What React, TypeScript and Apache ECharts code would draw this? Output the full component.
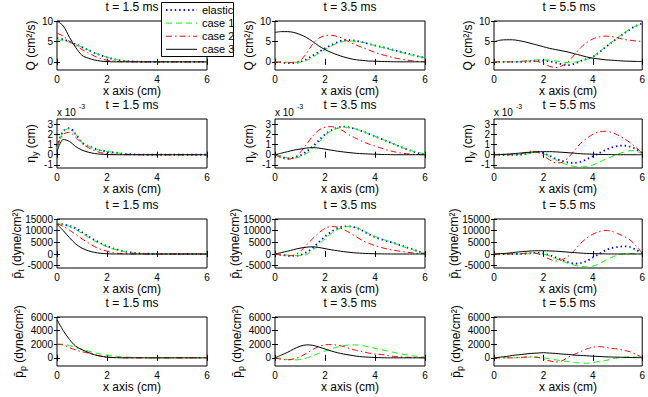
import React, { useEffect, useRef } from "react";
import * as echarts from "echarts";

const FONT = "'Liberation Sans', Arial, Helvetica, sans-serif";

const X = [0, 0.25, 0.5, 0.75, 1, 1.25, 1.5, 1.75, 2, 2.25, 2.5, 2.75, 3, 3.25, 3.5, 3.75, 4, 4.25, 4.5, 4.75, 5, 5.25, 5.5, 5.75, 6];
const TIMES = ["t = 1.5 ms", "t = 3.5 ms", "t = 5.5 ms"];
const NAMES = ["elastic", "case 1", "case 2", "case 3"];

const Q_TICKS = [0, 5, 10];
const ETA_TICKS = [-1, 0, 1, 2, 3];
const PT_TICKS = [-5000, 0, 5000, 10000, 15000];
const PP_TICKS = [0, 2000, 4000, 6000];

// Q (cm^2/s)
const Q15_E = [5.8, 5.5, 4.9, 4.3, 3.6, 2.9, 2.2, 1.6, 1.1, 0.7, 0.4, 0.2, 0.1, 0.05, 0, 0, 0, 0, 0, 0, 0, 0, 0, 0, 0];
const Q15_1 = [5.4, 5.2, 4.8, 4.3, 3.6, 2.9, 2.2, 1.6, 1.1, 0.7, 0.4, 0.2, 0.1, 0.05, 0, 0, 0, 0, 0, 0, 0, 0, 0, 0, 0];
const Q15_2 = [7.0, 6.3, 5.0, 4.0, 3.0, 2.2, 1.4, 0.8, 0.4, 0.2, 0.05, 0, 0, 0, 0, 0, 0, 0, 0, 0, 0, 0, 0, 0, 0];
const Q15_3 = [10, 8.8, 6.0, 3.5, 1.6, 0.9, 0.45, 0.18, 0.05, 0, 0, 0, 0, 0, 0, 0, 0, 0, 0, 0, 0, 0, 0, 0, 0];
const Q35_E = [0, -0.1, -0.3, -0.3, 0.0, 0.6, 1.5, 2.4, 3.3, 4.1, 4.8, 5.3, 5.3, 5.1, 4.8, 4.4, 4.0, 3.7, 3.3, 2.9, 2.5, 2.1, 1.7, 1.3, 1.0];
const Q35_1 = [0, 0, -0.1, -0.2, -0.1, 0.3, 1.1, 2.1, 3.0, 3.9, 4.6, 5.0, 5.1, 5.0, 4.8, 4.4, 4.0, 3.6, 3.2, 2.8, 2.4, 2.0, 1.6, 1.3, 1.0];
const Q35_2 = [0, -0.1, -0.2, -0.1, 0.3, 2.0, 4.3, 5.8, 6.4, 6.5, 6.2, 5.6, 4.8, 4.1, 3.5, 2.9, 2.3, 1.8, 1.4, 1.0, 0.7, 0.45, 0.25, 0.1, 0.05];
const Q35_3 = [7.2, 7.4, 7.4, 7.2, 6.7, 6.0, 5.0, 3.9, 3.0, 2.3, 1.7, 1.2, 0.8, 0.5, 0.35, 0.2, 0.15, 0.1, 0.05, 0.02, 0, 0, 0, 0, 0];
const Q55_E = [0, 0, 0, 0, 0, 0, 0.1, 0.3, 0.3, 0.1, -0.2, -0.6, -0.8, -0.5, 0.2, 0.7, 1.2, 2.3, 3.5, 4.7, 5.8, 6.9, 7.9, 8.8, 9.4];
const Q55_1 = [0, 0, 0, 0, 0, 0.1, 0.3, 0.5, 0.5, 0.4, 0.2, 0, -0.2, -0.1, 0.2, 0.6, 1.3, 2.4, 3.6, 4.8, 5.9, 7.0, 8.0, 8.8, 9.3];
const Q55_2 = [0, 0, 0, 0, 0.1, 0.2, 0.3, 0.1, -0.4, -1.1, -1.4, -1.0, 0.0, 1.7, 3.4, 4.7, 5.6, 6.1, 6.3, 6.2, 5.9, 5.5, 5.3, 5.1, 5.0];
const Q55_3 = [4.9, 5.3, 5.4, 5.4, 5.2, 4.9, 4.5, 4.1, 3.7, 3.3, 3.0, 2.7, 2.4, 2.0, 1.6, 1.2, 0.9, 0.7, 0.5, 0.4, 0.3, 0.2, 0.15, 0.1, 0.08];

// eta_y (x 1e-3 cm)
const ETA15_E = [0.8, 2.3, 2.6, 2.0, 1.2, 0.85, 0.6, 0.42, 0.32, 0.24, 0.15, 0.08, 0.04, 0.02, 0, 0, 0, 0, 0, 0, 0, 0, 0, 0, 0];
const ETA15_1 = [0.6, 2.3, 2.55, 2.0, 1.2, 0.85, 0.6, 0.42, 0.32, 0.24, 0.15, 0.08, 0.04, 0.02, 0, 0, 0, 0, 0, 0, 0, 0, 0, 0, 0];
const ETA15_2 = [0.9, 2.0, 2.2, 1.7, 1.1, 0.7, 0.4, 0.2, 0.1, 0.05, 0.02, 0, 0, 0, 0, 0, 0, 0, 0, 0, 0, 0, 0, 0, 0];
const ETA15_3 = [0.3, 1.5, 1.3, 0.8, 0.45, 0.25, 0.12, 0.05, 0.02, 0, 0, 0, 0, 0, 0, 0, 0, 0, 0, 0, 0, 0, 0, 0, 0];
const ETA35_E = [0, -0.2, -0.35, -0.3, -0.1, 0.3, 0.8, 1.4, 2.0, 2.4, 2.65, 2.75, 2.65, 2.5, 2.3, 2.05, 1.8, 1.55, 1.3, 1.05, 0.8, 0.55, 0.35, 0.15, 0.05];
const ETA35_1 = [0, -0.15, -0.3, -0.35, -0.2, 0.1, 0.6, 1.2, 1.9, 2.35, 2.6, 2.7, 2.65, 2.5, 2.3, 2.05, 1.8, 1.55, 1.3, 1.05, 0.8, 0.55, 0.35, 0.2, 0.1];
const ETA35_2 = [0, -0.3, -0.45, -0.3, 0.2, 1.0, 1.8, 2.4, 2.7, 2.75, 2.6, 2.3, 1.9, 1.6, 1.3, 1.05, 0.85, 0.65, 0.45, 0.3, 0.18, 0.1, 0.05, 0.02, 0];
const ETA35_3 = [0, 0.15, 0.3, 0.45, 0.55, 0.65, 0.7, 0.65, 0.55, 0.45, 0.35, 0.27, 0.2, 0.14, 0.1, 0.07, 0.05, 0.03, 0.02, 0, 0, 0, 0, 0, 0];
const ETA55_E = [0, 0, 0, 0, 0, 0.05, 0.2, 0.3, 0.15, -0.1, -0.4, -0.6, -0.75, -0.8, -0.7, -0.45, -0.15, 0.15, 0.45, 0.7, 0.85, 0.9, 0.8, 0.55, 0.15];
const ETA55_1 = [0, 0, 0, 0, 0, 0.05, 0.15, 0.25, 0.1, -0.2, -0.5, -0.8, -1.0, -1.15, -1.2, -1.15, -1.0, -0.75, -0.45, -0.2, 0.05, 0.25, 0.4, 0.35, 0.1];
const ETA55_2 = [0, 0, 0, 0, 0.05, 0.2, 0.35, 0.25, -0.1, -0.5, -0.8, -0.75, -0.3, 0.4, 1.1, 1.6, 2.0, 2.25, 2.3, 2.2, 1.95, 1.6, 1.2, 0.7, 0.15];
const ETA55_3 = [0, 0.02, 0.05, 0.1, 0.15, 0.2, 0.25, 0.28, 0.3, 0.3, 0.28, 0.24, 0.2, 0.15, 0.1, 0.07, 0.05, 0.03, 0.02, 0.01, 0, 0, 0, 0, 0];

// p_t (dyne/cm^2)
const PT15_E = [13000, 12700, 12000, 11000, 9300, 7600, 6000, 4600, 3400, 2400, 1600, 1000, 600, 300, 150, 80, 40, 20, 0, 0, 0, 0, 0, 0, 0];
const PT15_1 = [13000, 12600, 11800, 10500, 8800, 7200, 5600, 4300, 3100, 2200, 1500, 900, 500, 250, 100, 50, 20, 0, 0, 0, 0, 0, 0, 0, 0];
const PT15_2 = [13000, 11800, 10200, 8400, 6500, 4800, 3200, 2000, 1200, 600, 250, 80, 20, 0, 0, 0, 0, 0, 0, 0, 0, 0, 0, 0, 0];
const PT15_3 = [12800, 10000, 7000, 4300, 2500, 1400, 700, 300, 100, 30, 0, 0, 0, 0, 0, 0, 0, 0, 0, 0, 0, 0, 0, 0, 0];
const PT35_E = [0, -300, -700, -800, -500, 700, 2500, 5000, 7500, 9500, 11000, 11800, 11800, 11200, 10000, 8500, 7200, 6300, 5500, 4700, 3800, 2900, 2000, 1100, 300];
const PT35_1 = [0, -200, -500, -700, -700, -300, 1500, 4000, 6500, 8800, 10500, 11500, 11800, 11300, 10200, 8800, 7500, 6500, 5600, 4700, 3700, 2700, 1800, 900, 200];
const PT35_2 = [0, -500, -800, -500, 1000, 3800, 6500, 9000, 11000, 11800, 11500, 10500, 9000, 7400, 5800, 4600, 3600, 2800, 2100, 1600, 1200, 800, 500, 250, 100];
const PT35_3 = [0, 600, 1200, 1900, 2500, 2900, 3100, 2800, 2300, 1800, 1400, 1000, 700, 450, 300, 180, 100, 50, 20, 0, 0, 0, 0, 0, 0];
const PT55_E = [0, 0, 0, 0, 0, 100, 300, 500, 200, -500, -1500, -2600, -3500, -4100, -3900, -3000, -1500, 0, 1500, 2500, 3000, 3300, 3000, 1800, 300];
const PT55_1 = [0, 0, 0, 0, 0, 50, 200, 300, 0, -800, -2000, -3000, -4000, -4800, -5300, -5500, -5200, -4200, -2800, -1500, -400, 100, 200, 100, 0];
const PT55_2 = [0, 0, 0, 0, 100, 300, 500, 200, -1000, -2200, -3000, -2500, -1000, 1500, 4500, 6800, 8500, 9600, 10100, 9800, 8800, 7600, 6100, 3500, 300];
const PT55_3 = [0, 150, 300, 600, 900, 1100, 1300, 1400, 1400, 1300, 1200, 1000, 800, 600, 400, 250, 150, 100, 50, 20, 0, 0, 0, 0, 0];

// p_p (dyne/cm^2)
const PP15_1 = [2000, 2000, 1800, 1500, 1300, 1000, 750, 550, 400, 280, 180, 110, 60, 40, 20, 10, 0, 0, 0, 0, 0, 0, 0, 0, 0];
const PP15_2 = [2000, 1900, 1500, 1150, 900, 700, 450, 250, 120, 50, 20, 0, 0, 0, 0, 0, 0, 0, 0, 0, 0, 0, 0, 0, 0];
const PP15_3 = [5600, 4000, 2700, 1700, 1200, 800, 450, 250, 100, 40, 10, 0, 0, 0, 0, 0, 0, 0, 0, 0, 0, 0, 0, 0, 0];
const PP35_1 = [0, -100, -250, -300, -250, -50, 300, 650, 1000, 1300, 1600, 1800, 1900, 1900, 1800, 1600, 1400, 1200, 1000, 800, 600, 450, 300, 200, 100];
const PP35_2 = [0, -200, -300, -150, 150, 650, 1200, 1650, 1900, 1950, 1850, 1650, 1350, 1100, 900, 700, 550, 500, 350, 220, 150, 100, 50, 20, 0];
const PP35_3 = [0, 400, 800, 1300, 1700, 1900, 1850, 1600, 1300, 1000, 750, 550, 400, 250, 150, 100, 50, 20, 0, 0, 0, 0, 0, 0, 0];
const PP55_1 = [0, 0, 0, 0, 50, 100, 100, 50, 0, -150, -300, -450, -550, -700, -750, -800, -700, -550, -400, -200, 0, 100, 150, 100, 50];
const PP55_2 = [0, 0, 0, 0, 50, 100, 150, 100, -200, -450, -600, -450, 100, 500, 900, 1300, 1550, 1650, 1550, 1400, 1300, 1100, 900, 500, 50];
const PP55_3 = [0, 100, 200, 350, 450, 550, 650, 700, 750, 700, 650, 550, 500, 400, 350, 300, 250, 200, 150, 120, 100, 70, 50, 30, 20];

const GRID_LEFT = [57, 275, 494];
const GRID_TOP = [21, 119, 219, 317];
const GRID_W = 150;
const GRID_H = 49;

const LINE_STYLES: Record<string, any> = {
  elastic: { color: "#0000ff", width: 1.8, type: [1.4, 3] },
  "case 1": { color: "#00ff00", width: 1, type: [6, 4] },
  "case 2": { color: "#ff0000", width: 1, type: [6, 3, 1.5, 3] },
  "case 3": { color: "#000000", width: 1, type: "solid" },
};

const RICH = {
  m: { fontSize: 12, lineHeight: 16, verticalAlign: "middle", fill: "#000", fontFamily: FONT },
  sub: { fontSize: 9, lineHeight: 16, verticalAlign: "bottom", fill: "#000", fontFamily: FONT },
};

const ROWS = [
  {
    name: "{m|Q (cm²/s)}", min: -2, max: 10, ticks: Q_TICKS, off: 26,
    cols: [[Q15_E, Q15_1, Q15_2, Q15_3], [Q35_E, Q35_1, Q35_2, Q35_3], [Q55_E, Q55_1, Q55_2, Q55_3]],
  },
  {
    name: "{m|η}{sub|y}{m| (cm)}", min: -1.3, max: 3.5, ticks: ETA_TICKS, off: 26,
    cols: [[ETA15_E, ETA15_1, ETA15_2, ETA15_3], [ETA35_E, ETA35_1, ETA35_2, ETA35_3], [ETA55_E, ETA55_1, ETA55_2, ETA55_3]],
  },
  {
    name: "{m|p\u0304}{sub|t}{m| (dyne/cm²)}", min: -6000, max: 15000, ticks: PT_TICKS, off: 40,
    cols: [[PT15_E, PT15_1, PT15_2, PT15_3], [PT35_E, PT35_1, PT35_2, PT35_3], [PT55_E, PT55_1, PT55_2, PT55_3]],
  },
  {
    name: "{m|p\u0304}{sub|p}{m| (dyne/cm²)}", min: -1200, max: 6000, ticks: PP_TICKS, off: 38,
    cols: [[null, PP15_1, PP15_2, PP15_3], [null, PP35_1, PP35_2, PP35_3], [null, PP55_1, PP55_2, PP55_3]],
  },
];

function buildLegend() {
  const els: any[] = [];
  els.push({
    type: "rect", z: 100, shape: { x: 161.5, y: 2.5, width: 72, height: 54 },
    style: { fill: "#fff", stroke: "#000", lineWidth: 1 },
  });
  NAMES.forEach((nm, i) => {
    const y = 10 + i * 13.1;
    const ls = LINE_STYLES[nm];
    els.push({
      type: "line", z: 101, shape: { x1: 166, y1: y, x2: 197, y2: y },
      style: { stroke: ls.color, lineWidth: ls.width, lineDash: ls.type === "solid" ? null : ls.type },
    });
    els.push({
      type: "text", z: 101, x: 202, y,
      style: { text: nm, fontSize: 11, fontFamily: FONT, fill: "#000", align: "left", verticalAlign: "middle" },
    });
  });
  return els;
}

function buildOption() {
  const grid: any[] = [];
  const xAxis: any[] = [];
  const yAxis: any[] = [];
  const series: any[] = [];
  const title: any[] = [];
  const graphic: any[] = [];
  const tick = { inside: true, length: 3, lineStyle: { color: "#000", width: 1 } };
  const label = { fontSize: 10, color: "#000", fontFamily: FONT, margin: 4, formatter: (v: number) => String(v) };

  ROWS.forEach((row, r) => {
    row.cols.forEach((sets, c) => {
      const g = grid.length;
      grid.push({
        left: GRID_LEFT[c], top: GRID_TOP[r], width: GRID_W, height: GRID_H,
        show: true, borderColor: "#000", borderWidth: 1, backgroundColor: "#fff",
      });
      xAxis.push({
        type: "value", gridIndex: g, min: 0, max: 6, interval: 2,
        axisLine: { show: false }, axisTick: tick, splitLine: { show: false },
        axisLabel: label,
        name: "x axis (cm)", nameLocation: "middle", nameGap: 14,
        nameTextStyle: { fontSize: 12, color: "#000", fontFamily: FONT },
      });
      xAxis.push({
        type: "value", gridIndex: g, position: "top", min: 0, max: 6, interval: 2,
        axisLine: { show: false }, axisTick: tick, splitLine: { show: false }, axisLabel: { show: false },
      });
      yAxis.push({
        type: "value", gridIndex: g, min: row.min, max: row.max,
        axisLine: { show: false },
        axisTick: { ...tick, customValues: row.ticks },
        axisLabel: { ...label, customValues: row.ticks },
        splitLine: { show: false },
      });
      yAxis.push({
        type: "value", gridIndex: g, position: "right", min: row.min, max: row.max,
        axisLine: { show: false },
        axisTick: { ...tick, customValues: row.ticks },
        axisLabel: { show: false },
        splitLine: { show: false },
      });
      sets.forEach((arr, k) => {
        if (!arr) return;
        const nm = NAMES[k];
        const ls = LINE_STYLES[nm];
        series.push({
          type: "line", name: nm, xAxisIndex: 2 * g, yAxisIndex: 2 * g,
          data: X.map((x, i) => [x, arr[i]]),
          symbol: "none", smooth: 0.3,
          lineStyle: { color: ls.color, width: ls.width, type: ls.type },
          itemStyle: { color: ls.color },
        });
      });
      title.push({
        text: TIMES[c], left: GRID_LEFT[c] + GRID_W / 2, top: GRID_TOP[r] - 20, textAlign: "center", padding: 0,
        textStyle: { fontSize: 12, fontWeight: "normal", color: "#000", fontFamily: FONT },
      });
      graphic.push({
        type: "text", x: GRID_LEFT[c] - row.off, y: GRID_TOP[r] + GRID_H / 2, rotation: Math.PI / 2,
        style: {
          text: row.name, rich: RICH, fontSize: 12, fontFamily: FONT, fill: "#000",
          align: "center", verticalAlign: "middle",
        },
      });
      if (r === 1) {
        graphic.push({
          type: "text", x: GRID_LEFT[c], y: 112,
          style: { text: "x 10", fontSize: 10, fontFamily: FONT, fill: "#000", align: "left", verticalAlign: "middle" },
        });
        graphic.push({
          type: "text", x: GRID_LEFT[c] + 22, y: 106,
          style: { text: "-3", fontSize: 7, fontFamily: FONT, fill: "#000", align: "left", verticalAlign: "middle" },
        });
      }
    });
  });

  return {
    animation: false,
    backgroundColor: "#fff",
    textStyle: { fontFamily: FONT },
    title,
    grid,
    xAxis,
    yAxis,
    series,
    graphic: [...graphic, ...buildLegend()],
  };
}

export default function App() {
  const ref = useRef<HTMLDivElement>(null);
  useEffect(() => {
    if (!ref.current) return;
    const chart = echarts.init(ref.current, null, { renderer: "svg" });
    chart.setOption(buildOption() as any);
    return () => chart.dispose();
  }, []);
  return <div ref={ref} style={{ position: "fixed", left: 0, top: 0, width: 648, height: 397, background: "#fff" }} />;
}
